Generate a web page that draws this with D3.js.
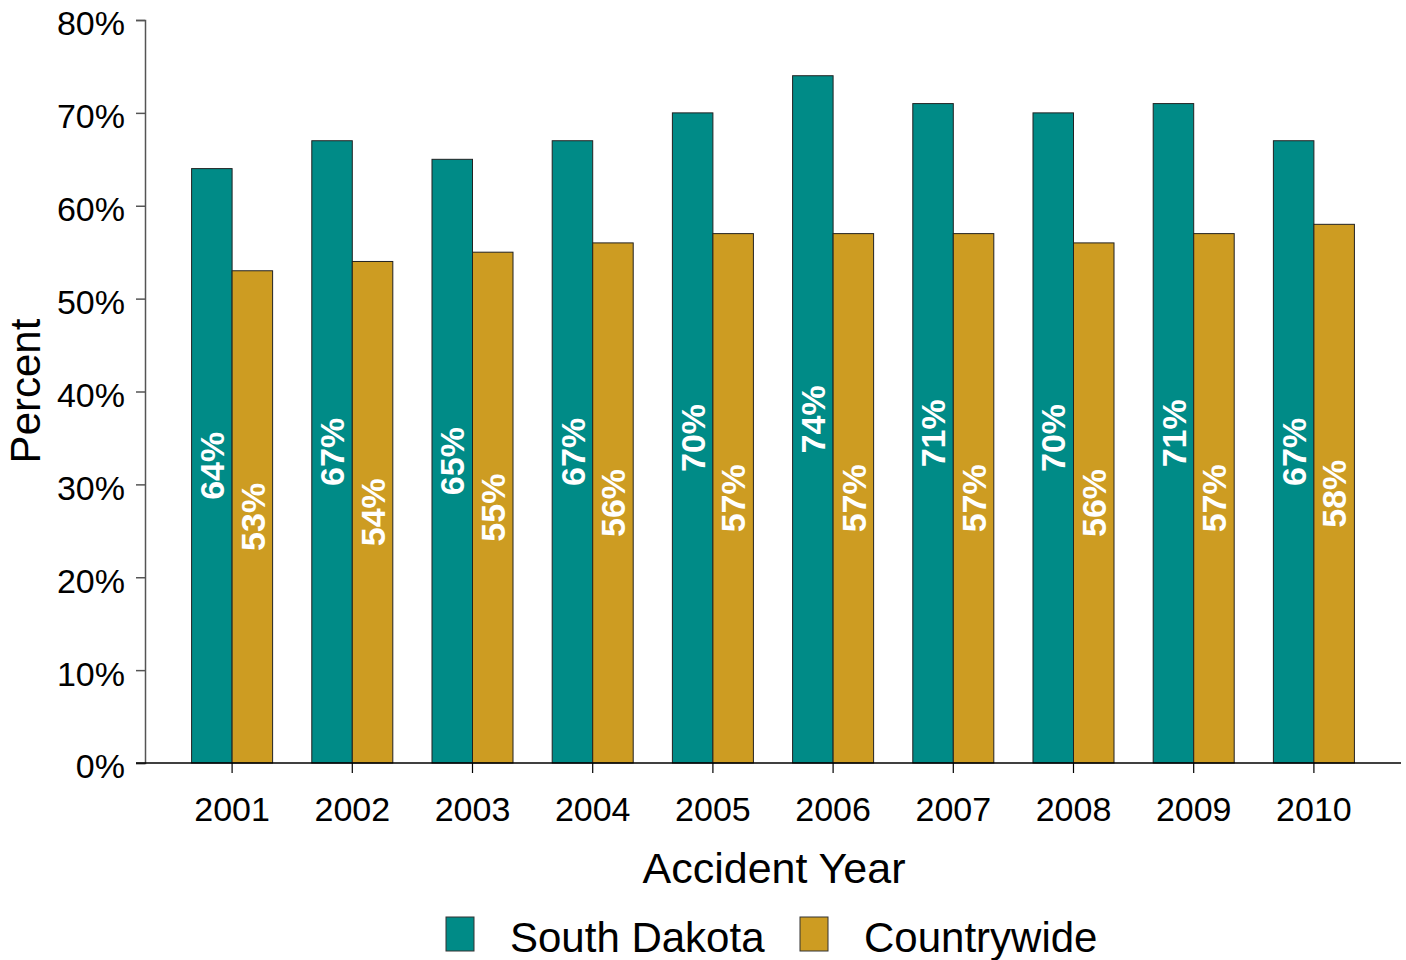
<!DOCTYPE html>
<html>
<head>
<meta charset="utf-8">
<script src="https://cdn.jsdelivr.net/npm/d3@7"></script>
<style>
  body { margin: 0; background: #fff; }
  text { font-family: "Liberation Sans", Arial, sans-serif; }
</style>
</head>
<body>
<div id="chart"></div>
<script>
var years = ["2001", "2002", "2003", "2004", "2005", "2006", "2007", "2008", "2009", "2010"];
var seriesNames = ["South Dakota", "Countrywide"];
var southDakota = [64, 67, 65, 67, 70, 74, 71, 70, 71, 67];
var countrywide = [53, 54, 55, 56, 57, 57, 57, 56, 57, 58];
var yTicks = [0, 10, 20, 30, 40, 50, 60, 70, 80];
var colors = ["#008B87", "#CD9C22"];

var svgWidth = 1406;
var svgHeight = 960;

var svg = d3.select("#chart")
  .append("svg")
  .attr("width", svgWidth)
  .attr("height", svgHeight);

var rows = years.map(function(y, i) {
  return { year: y, values: [southDakota[i], countrywide[i]] };
});

// scales
var x0 = d3.scaleBand()
  .domain(years)
  .range([172, 1374])
  .paddingInner(0.326)
  .paddingOuter(0.163);

var x1 = d3.scaleBand()
  .domain(seriesNames)
  .range([0, x0.bandwidth()]);

var y = d3.scaleLinear()
  .domain([0, 80])
  .range([763, 20]);

// y axis
var leftAxis = d3.axisLeft(y)
  .tickValues(yTicks)
  .tickSize(9)
  .tickPadding(11)
  .tickFormat(function(d) { return d + "%"; });

var yAxisG = svg.append("g")
  .attr("transform", "translate(145,0)")
  .call(leftAxis);
yAxisG.select(".domain").attr("stroke", "#555").attr("stroke-width", 1.5);
yAxisG.selectAll(".tick line").attr("stroke", "#555").attr("stroke-width", 1.5);
yAxisG.selectAll("text")
  .attr("dy", "0.44em")
  .style("font-size", "34px")
  .attr("fill", "#000");

// bars
var groups = svg.selectAll("g.year")
  .data(rows)
  .enter().append("g")
  .attr("class", "year")
  .attr("transform", function(d) { return "translate(" + x0(d.year) + ",0)"; });

groups.selectAll("rect")
  .data(function(d) { return d.values.map(function(v, i) { return { name: seriesNames[i], value: v, idx: i }; }); })
  .enter().append("rect")
  .attr("x", function(d) { return x1(d.name); })
  .attr("y", function(d) { return y(d.value); })
  .attr("width", x1.bandwidth())
  .attr("height", function(d) { return y(0) - y(d.value); })
  .attr("fill", function(d) { return colors[d.idx]; })
  .attr("stroke", "#222")
  .attr("stroke-width", 1);

// value labels, rotated, centered in bar
groups.selectAll("text.val")
  .data(function(d) { return d.values.map(function(v, i) { return { name: seriesNames[i], value: v }; }); })
  .enter().append("text")
  .attr("class", "val")
  .attr("transform", function(d) {
    var cx = x1(d.name) + x1.bandwidth() / 2;
    var cy = (y(d.value) + y(0)) / 2;
    return "translate(" + cx + "," + cy + ") rotate(-90)";
  })
  .attr("text-anchor", "middle")
  .attr("dy", "0.36em")
  .style("font-size", "34px")
  .style("font-weight", "bold")
  .attr("fill", "#fff")
  .text(function(d) { return d.value + "%"; });

// x axis
var bottomAxis = d3.axisBottom(x0)
  .tickSize(10)
  .tickPadding(24);

var xAxisG = svg.append("g")
  .attr("transform", "translate(0,763)")
  .call(bottomAxis);
xAxisG.select(".domain").remove();
xAxisG.selectAll(".tick line").attr("stroke", "#000").attr("stroke-width", 1.2);
xAxisG.selectAll("text")
  .style("font-size", "34px")
  .attr("fill", "#000");

svg.append("line")
  .attr("x1", 136)
  .attr("x2", 1401)
  .attr("y1", 763)
  .attr("y2", 763)
  .attr("stroke", "#000")
  .attr("stroke-width", 1.5);

// axis titles
svg.append("text")
  .attr("x", 774)
  .attr("y", 883)
  .attr("text-anchor", "middle")
  .style("font-size", "43px")
  .text("Accident Year");

svg.append("text")
  .attr("transform", "translate(40,391) rotate(-90)")
  .attr("text-anchor", "middle")
  .style("font-size", "42px")
  .text("Percent");

// legend
var legendX = [446, 800];
var legend = svg.selectAll("g.legend")
  .data(seriesNames)
  .enter().append("g")
  .attr("class", "legend")
  .attr("transform", function(d, i) { return "translate(" + legendX[i] + ",917)"; });

legend.append("rect")
  .attr("width", 28)
  .attr("height", 34)
  .attr("fill", function(d, i) { return colors[i]; })
  .attr("stroke", "#333")
  .attr("stroke-width", 1);

legend.append("text")
  .attr("x", 64)
  .attr("y", 35)
  .style("font-size", "42px")
  .text(function(d) { return d; });
</script>
</body>
</html>
